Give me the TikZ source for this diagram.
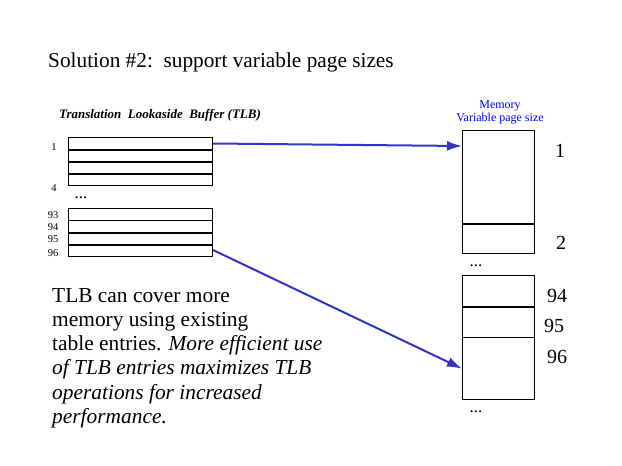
\documentclass[tikz,border=0pt]{standalone}
\usepackage{fontspec}
\setmainfont{Liberation Serif}
\usetikzlibrary{arrows.meta}
\definecolor{arrowblue}{RGB}{51,51,204}
\definecolor{textblue}{RGB}{0,0,255}
\begin{document}
\begin{tikzpicture}[x=1pt,y=-1pt,
  thinline/.style={line width=1pt},
  thickline/.style={line width=2pt},
  row/.style={draw, line width=1pt, minimum width=144pt, minimum height=12pt, inner sep=0pt, anchor=north west},
  page/.style={draw, line width=1pt, minimum width=72pt, inner sep=0pt, anchor=north west},
  smalllbl/.style={font=\fontsize{10.5}{12}\selectfont, inner sep=0pt},
  biglbl/.style={font=\fontsize{20}{22}\selectfont, inner sep=0pt},
  dotslbl/.style={font=\fontsize{17}{19}\selectfont, inner sep=0pt},
  bodytext/.style={font=\fontsize{21.4}{24}\selectfont, inner sep=0pt, anchor=base west},
  blueline/.style={draw=arrowblue, line width=2pt, -{Latex[length=15pt,width=10pt]}}
]
\useasboundingbox[fill=white] (0,0) rectangle (622,466);

% Title
\node[font=\fontsize{21.3}{23}\selectfont, inner sep=0pt, anchor=base west] (title) at (48,67) {Solution \#2:\ \ support variable page sizes};

% TLB header
\node[font=\fontsize{13}{15}\selectfont\bfseries\itshape, inner sep=0pt] (tlbhead) at (160,115) {Translation\ \ Lookaside\ \ Buffer (TLB)};

% TLB rows, top block
\node[row] (r1) at (68,137) {};
\node[row] (r2) at (68,149) {};
\node[row] (r3) at (68,161) {};
\node[row] (r4) at (68,173) {};
\draw[thickline] (r1.south west) -- (r1.south east);
\draw[thickline] (r2.south west) -- (r2.south east);
\draw[thickline] (r3.south west) -- (r3.south east);

% TLB rows, bottom block
\node[row] (r93) at (68,207.5) {};
\node[row] (r94) at (68,219.5) {};
\node[row] (r95) at (68,231.5) {};
\node[row] (r96) at (68,243.5) {};
\draw[thickline] (r94.south west) -- (r94.south east);
\draw[thickline] (r95.south west) -- (r95.south east);

% TLB labels
\node[smalllbl] (l1) at (54,147) {1};
\node[smalllbl] (l4) at (54,188) {4};
\node[dotslbl] (tdots) at (81,198) {...};
\node[smalllbl] (l93) at (53,215) {93};
\node[smalllbl] (l94) at (53,227.5) {94};
\node[smalllbl] (l95) at (53,239) {95};
\node[smalllbl] (l96) at (53,253) {96};

% Memory header
\node[font=\fontsize{12}{14}\selectfont, text=textblue, inner sep=0pt] (memhead) at (500,106) {Memory};
\node[font=\fontsize{12}{14}\selectfont, text=textblue, inner sep=0pt] (memsub) at (500,119) {Variable page size};

% Memory pages, upper
\node[page, minimum height=92.7pt] (p1) at (462,130) {};
\node[page, minimum height=30.6pt] (p2) at (462,222.7) {};
\draw[thickline] (p1.south west) -- (p1.south east);
\node[biglbl] (m1) at (560,151) {1};
\node[biglbl] (m2) at (561,243) {2};
\node[dotslbl] (mdots1) at (476,266) {...};

% Memory pages, lower
\node[page, minimum height=30.7pt] (p94) at (462,275) {};
\node[page, minimum height=31.6pt] (p95) at (462,305.7) {};
\node[page, minimum height=61.7pt] (p96) at (462,337.3) {};
\draw[thickline] (p94.south west) -- (p94.south east);
\node[biglbl] (m94) at (557,296) {94};
\node[biglbl] (m95) at (554,326) {95};
\node[biglbl] (m96) at (557,357) {96};
\node[dotslbl] (mdots2) at (476,412) {...};

% Arrows
\coordinate (p1in) at (462,146);
\draw[blueline] (r1.east) -- (p1in);
\draw[blueline] (r96.east) -- (p96.west);

% Body text
\node[bodytext] (b1) at (52,302) {TLB can cover more};
\node[bodytext] (b2) at (52,326.3) {memory using existing};
\node[bodytext] (b3) at (52,350.6) {table entries. \textit{More efficient use}};
\node[bodytext] (b4) at (52,374.9) {\textit{of TLB entries maximizes TLB}};
\node[bodytext] (b5) at (52,399.2) {\textit{operations for increased}};
\node[bodytext] (b6) at (52,423.5) {\textit{performance.}};
\end{tikzpicture}
\end{document}
